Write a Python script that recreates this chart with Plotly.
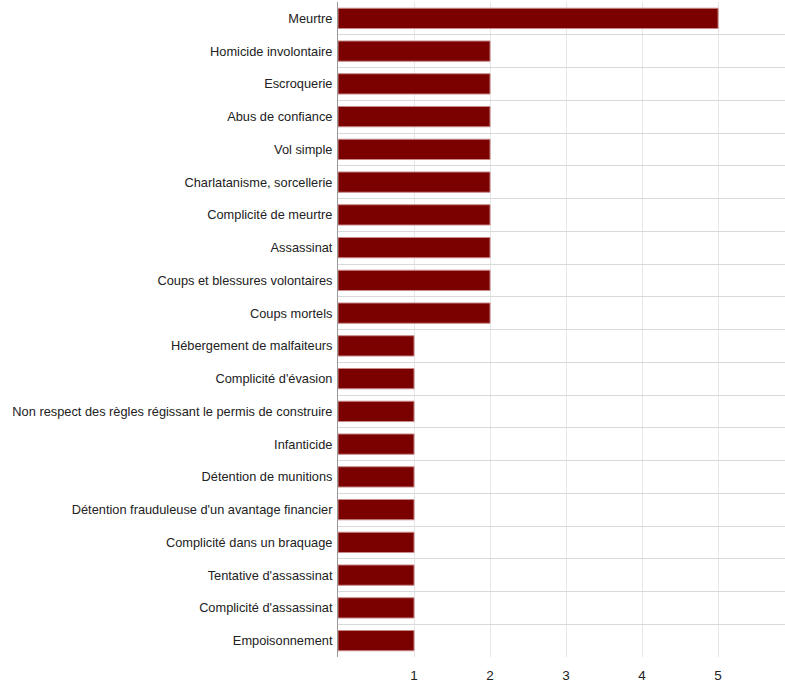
import plotly.graph_objects as go

categories = [
    "Meurtre",
    "Homicide involontaire",
    "Escroquerie",
    "Abus de confiance",
    "Vol simple",
    "Charlatanisme, sorcellerie",
    "Complicité de meurtre",
    "Assassinat",
    "Coups et blessures volontaires",
    "Coups mortels",
    "Hébergement de malfaiteurs",
    "Complicité d'évasion",
    "Non respect des règles régissant le permis de construire",
    "Infanticide",
    "Détention de munitions",
    "Détention frauduleuse d'un avantage financier",
    "Complicité dans un braquage",
    "Tentative d'assassinat",
    "Complicité d'assassinat",
    "Empoisonnement",
]
values = [5, 2, 2, 2, 2, 2, 2, 2, 2, 2, 1, 1, 1, 1, 1, 1, 1, 1, 1, 1]
x_ticks = [1, 2, 3, 4, 5]

fig = go.Figure(
    go.Bar(
        x=values,
        y=categories,
        orientation="h",
        width=0.62,
        marker=dict(color="#7b0000", line=dict(color="#c98a8a", width=1)),
    )
)

fig.update_layout(
    width=785,
    height=685,
    margin=dict(l=338, r=0, t=2, b=28),
    paper_bgcolor="white",
    plot_bgcolor="white",
    font=dict(family="Liberation Sans, Arial, sans-serif", size=12.8, color="#222222"),
    showlegend=False,
)
fig.update_xaxes(
    range=[0, 5.88],
    tickvals=x_ticks,
    ticktext=[str(v) for v in x_ticks],
    tickfont=dict(color="#222222", size=13.5),
    showgrid=True,
    gridcolor="#e6e6e6",
    gridwidth=1,
    zeroline=False,
    showline=False,
    ticks="",
    ticklabelstandoff=8,
)
fig.update_yaxes(
    categoryorder="array",
    categoryarray=categories,
    autorange="reversed",
    tickson="boundaries",
    tickfont=dict(color="#222222", size=12.8),
    showgrid=True,
    gridcolor="#d9d9d9",
    gridwidth=1,
    showline=True,
    linecolor="#999999",
    linewidth=1,
    ticks="",
    ticklabelstandoff=2,
)

fig.write_html(
    "out.html",
    config={"displayModeBar": False},
    post_script="document.body.style.margin='0';document.body.style.padding='0';",
)
